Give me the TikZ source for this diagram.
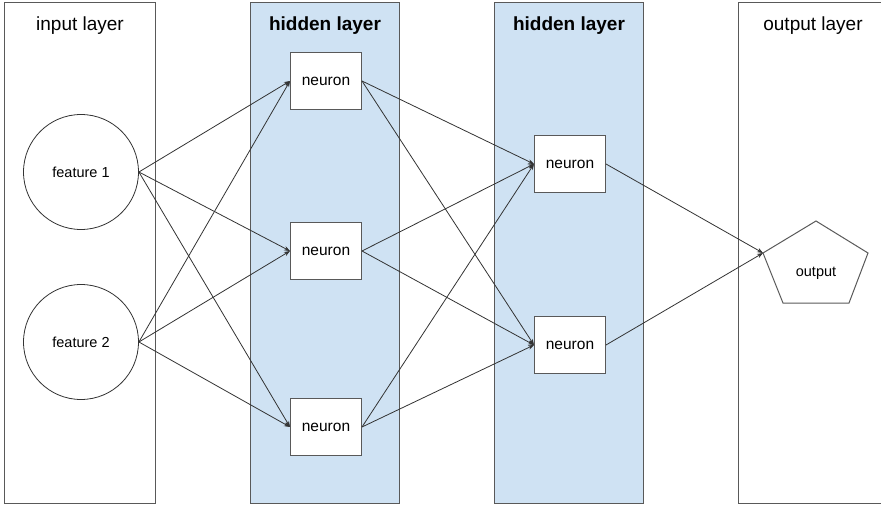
\documentclass[tikz,border=0pt]{standalone}
\usepackage{fontspec}
\setmainfont{Liberation Sans}
\usetikzlibrary{arrows.meta}
\definecolor{layerblue}{HTML}{CFE2F3}
\definecolor{edgegray}{HTML}{595959}
\definecolor{linkgray}{HTML}{333333}
\begin{document}
\begin{tikzpicture}[x=1pt,y=-1pt,
  layerbox/.style={draw=edgegray,line width=1pt},
  hiddenbox/.style={layerbox,fill=layerblue},
  title/.style={font=\fontsize{19}{21}\selectfont},
  btitle/.style={font=\fontsize{19}{21}\selectfont\bfseries},
  neuron/.style={draw=edgegray,fill=white,line width=1pt,minimum width=71pt,minimum height=57pt,inner sep=0pt,font=\fontsize{15.5}{17}\selectfont},
  feature/.style={draw=linkgray,fill=white,circle,line width=0.8pt,minimum size=115pt,inner sep=0pt,font=\fontsize{14.5}{16}\selectfont},
  link/.style={draw=linkgray,line width=0.8pt,-{Stealth[length=6pt,width=4.5pt]}}
]
\useasboundingbox (0,0) rectangle (881,505);
% layer columns
\draw[layerbox] (4,3) rectangle (155,503);
\draw[hiddenbox] (250,3) rectangle (399,503);
\draw[hiddenbox] (494,3) rectangle (643,503);
\draw[layerbox] (738,3) -- (890,3) (738,3) -- (738,503) -- (890,503);
% titles
\node[title] (t1) at (80,26) {input layer};
\node[btitle] (t2) at (325,26) {hidden layer};
\node[btitle] (t3) at (569,26) {hidden layer};
\node[title] (t4) at (813,26) {output layer};
% input features
\node[feature] (f1) at (81,172) {feature 1};
\node[feature] (f2) at (81,342) {feature 2};
% hidden neurons
\node[neuron] (a1) at (326,81) {neuron};
\node[neuron] (a2) at (326,251) {neuron};
\node[neuron] (a3) at (326,427) {neuron};
\node[neuron] (b1) at (570,164) {neuron};
\node[neuron] (b2) at (570,345) {neuron};
% output pentagon
\draw[draw=edgegray,line width=1pt,fill=white] (816,221) -- (868,253) -- (849,303) -- (783,303) -- (763,253) -- cycle;
\coordinate (oin) at (763,253);
\node[font=\fontsize{14.5}{16}\selectfont] (out) at (816,273) {output};
% links
\foreach \s in {f1,f2}{
  \foreach \t in {a1,a2,a3}{
    \draw[link] (\s.east) -- (\t.west);
  }
}
\foreach \s in {a1,a2,a3}{
  \foreach \t in {b1,b2}{
    \draw[link] (\s.east) -- (\t.west);
  }
}
\draw[link] (b1.east) -- (oin);
\draw[link] (b2.east) -- (oin);
\end{tikzpicture}
\end{document}
